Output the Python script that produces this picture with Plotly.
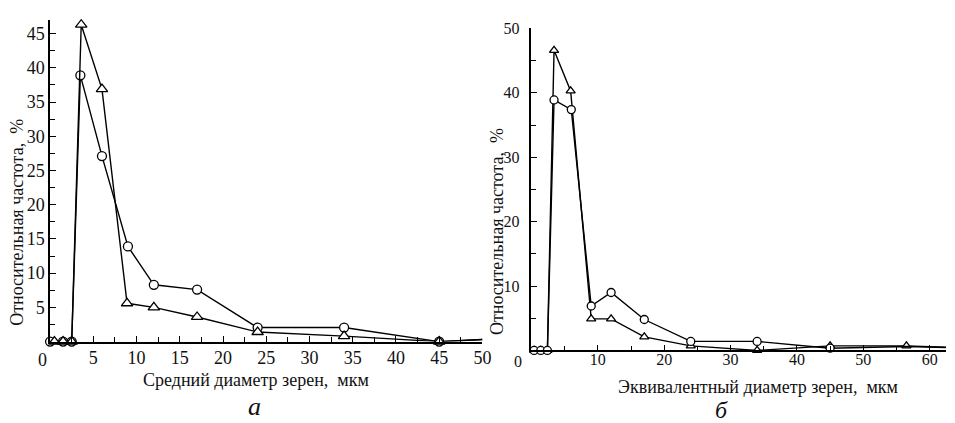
import plotly.graph_objects as go

# ---- data: panel "а" (mean grain diameter) ----
a_x_circ = [0, 1.5, 2.5, 3.5, 6, 9, 12, 17, 24, 34, 45, 50]
a_y_circ = [0, 0, 0, 38.9, 27.1, 13.9, 8.3, 7.6, 2.05, 2.05, 0, 0.3]
a_x_tri = [0.5, 1.5, 2.5, 3.6, 6, 8.9, 12, 17, 24, 34, 45, 50]
a_y_tri = [0, 0, 0, 46.3, 36.9, 5.6, 5.0, 3.6, 1.4, 0.8, 0, 0.3]

# ---- data: panel "б" (equivalent grain diameter) ----
b_x_circ = [0.4, 1.4, 2.4, 3.4, 6, 9, 12, 17, 24, 34, 45, 56.5, 65]
b_y_circ = [0, 0, 0, 38.9, 37.4, 6.9, 9.0, 4.8, 1.4, 1.4, 0.35, 0.6, 0.4]
b_x_tri = [0.4, 1.4, 2.4, 3.4, 5.9, 9, 12, 17, 24, 34, 45, 56.5, 65]
b_y_tri = [0, 0, 0, 46.6, 40.3, 4.9, 4.9, 2.1, 0.7, 0, 0.7, 0.7, 0.4]

a_xticks = [5, 10, 15, 20, 25, 30, 35, 40, 45, 50]
a_yticks = [5, 10, 15, 20, 25, 30, 35, 40, 45]
b_xticks = [10, 20, 30, 40, 50, 60]
b_yticks = [10, 20, 30, 40, 50]

FONT = "'Liberation Serif', 'Times New Roman', Times, serif"
OFF = 8                  # default page margin of the html body
W, H = 955 - OFF, 423 - OFF


def fx(p):               # page pixel -> paper fraction (x)
    return (p - OFF) / W


def fy(p):               # page pixel -> paper fraction (y)
    return 1 - (p - OFF) / H


fig = go.Figure()


def sizes(xs, end_hidden, s):
    return [0 if i >= len(xs) - end_hidden else s for i in range(len(xs))]


def add(xs, ys, sym, s, xa, ya, end_hidden):
    fig.add_trace(go.Scatter(
        x=xs, y=ys, mode="lines+markers", xaxis=xa, yaxis=ya,
        line=dict(color="black", width=1.4),
        marker=dict(symbol=sym, size=sizes(xs, end_hidden, s), color="#ffffff",
                    opacity=1, line=dict(color="black", width=1.3)),
        cliponaxis=False, showlegend=False, hoverinfo="skip"))


add(a_x_circ, a_y_circ, "circle", 9, "x", "y", 1)
add(a_x_tri, a_y_tri, "triangle-up", 10, "x", "y", 1)
add(b_x_tri, b_y_tri, "triangle-up", 8, "x2", "y2", 1)
add(b_x_circ, b_y_circ, "circle", 8, "x2", "y2", 2)

ax_common = dict(showgrid=False, zeroline=False, showline=True, linecolor="black",
                 linewidth=1.5, ticks="inside", tickcolor="black", tickwidth=1.3,
                 ticklen=6, fixedrange=True)

fig.update_layout(
    width=W, height=H, margin=dict(l=0, r=0, t=0, b=0),
    paper_bgcolor="white", plot_bgcolor="white",
    font=dict(family=FONT, color="#111"),
    xaxis=dict(**ax_common, domain=[fx(50.5), fx(487)], range=[0, 50], anchor="y",
               tickvals=a_xticks, ticktext=[str(v) for v in a_xticks],
               tickfont=dict(size=18, family=FONT), ticklabelstandoff=-1,
               minor=dict(ticks="inside", dtick=2.5, tick0=0, ticklen=5,
                          tickcolor="black", tickwidth=1.2)),
    yaxis=dict(**ax_common, domain=[fy(340), fy(12)], range=[0, 47], anchor="x",
               tickvals=a_yticks, ticktext=[str(v) for v in a_yticks],
               tickfont=dict(size=18, family=FONT), ticklabelstandoff=0,
               minor=dict(ticks="inside", dtick=2.5, tick0=0, ticklen=5,
                          tickcolor="black", tickwidth=1.2)),
    xaxis2=dict(**ax_common, domain=[fx(536.5), 1.0], range=[0, 62.46], anchor="y2",
                tickvals=b_xticks, ticktext=[str(v) for v in b_xticks],
                tickfont=dict(size=16, family=FONT), ticklabelstandoff=-6,
                minor=dict(ticks="inside", dtick=5, tick0=0, ticklen=5,
                           tickcolor="black", tickwidth=1.2)),
    yaxis2=dict(**ax_common, domain=[fy(349), fy(20.7)], range=[0, 50], anchor="x2",
                tickvals=b_yticks, ticktext=[str(v) for v in b_yticks],
                tickfont=dict(size=16, family=FONT), ticklabelstandoff=7,
                minor=dict(ticks="inside", dtick=5, tick0=0, ticklen=5,
                           tickcolor="black", tickwidth=1.2)),
)

ann = []
# "0" labels placed left of the axis origin
ann.append(dict(x=fx(43), y=fy(358.5), xref="paper", yref="paper", text="0",
                showarrow=False, xanchor="center", yanchor="middle",
                font=dict(size=18, family=FONT)))
ann.append(dict(x=fx(523), y=fy(360), xref="paper", yref="paper", text="0",
                showarrow=False, xanchor="center", yanchor="middle",
                font=dict(size=16, family=FONT)))
# axis titles
ann.append(dict(x=fx(258.5), y=fy(379), xref="paper", yref="paper",
                text="Средний диаметр зерен,  мкм", showarrow=False,
                xanchor="center", yanchor="middle", font=dict(size=18, family=FONT)))
ann.append(dict(x=fx(765), y=fy(386), xref="paper", yref="paper",
                text="Эквивалентный диаметр зерен,  мкм", showarrow=False,
                xanchor="center", yanchor="middle", font=dict(size=18, family=FONT)))
ann.append(dict(x=fx(17), y=fy(218), xref="paper", yref="paper",
                text="Относительная частота,  %", showarrow=False, textangle=-90,
                xanchor="center", yanchor="middle", font=dict(size=18, family=FONT)))
ann.append(dict(x=fx(501), y=fy(228), xref="paper", yref="paper",
                text="Относительная частота,  %", showarrow=False, textangle=-90,
                xanchor="center", yanchor="middle", font=dict(size=18, family=FONT)))
# panel captions
ann.append(dict(x=fx(257), y=fy(406), xref="paper", yref="paper",
                text="<i>а</i>", showarrow=False, xanchor="center", yanchor="middle",
                font=dict(size=26, family=FONT)))
ann.append(dict(x=fx(728), y=fy(410), xref="paper", yref="paper",
                text="<i>б</i>", showarrow=False, xanchor="center", yanchor="middle",
                font=dict(size=24, family=FONT)))
fig.update_layout(annotations=ann)

fig.write_html("out.html")
